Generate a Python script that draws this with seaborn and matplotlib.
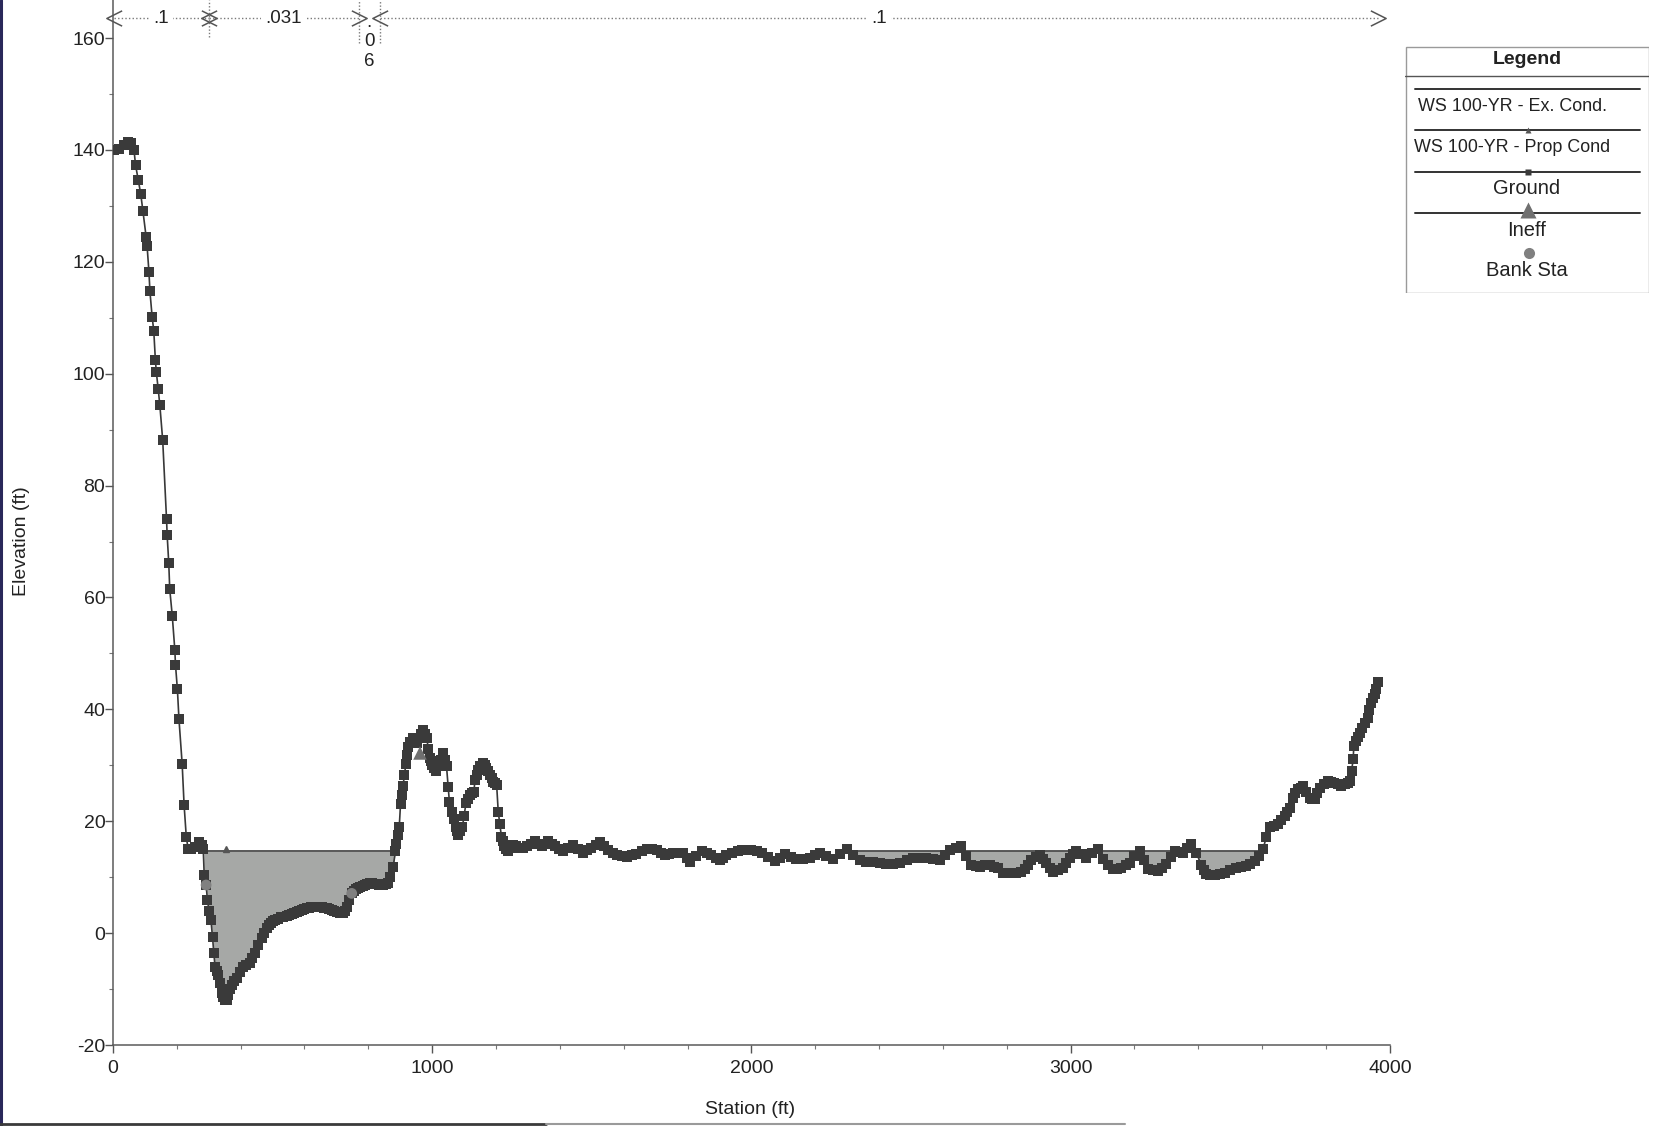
import numpy as np
import pandas as pd
import matplotlib
matplotlib.use("Agg")
import matplotlib.pyplot as plt
import seaborn as sns
from matplotlib.path import Path
from matplotlib.patches import Rectangle
from matplotlib.lines import Line2D

# ---------------------------------------------------------------- data
# ground profile: (station ft, elevation ft) per surveyed point
ground_sta = [
    3, 19, 34, 48, 57, 66, 71, 79, 87, 94, 104, 107, 113, 116, 123, 128, 133, 136,
    142, 147, 156, 168, 170, 175, 178, 186, 194, 196, 202, 207, 217, 223, 230, 236,
    245, 258, 270, 278, 283,
    286, 292, 296, 301, 307, 312, 316, 320, 325, 330, 336, 341, 346, 350, 356, 361,
    366, 372, 380, 388, 398, 408, 418, 429, 437, 445, 455, 466, 474,
    482, 488, 495, 502, 508, 516, 525, 534, 544, 552, 560, 568, 576, 584, 592, 600,
    607, 615, 622, 630, 638, 646, 655, 662, 670, 678, 686, 694, 701, 712, 722, 727,
    732, 740, 748, 754, 760, 767, 774, 782, 790, 797, 805, 812, 820, 828, 835, 841,
    847, 855, 862, 868, 878,
    885, 888, 893, 897, 901, 905, 909, 913, 918, 921, 925, 932, 939, 945, 951, 958,
    965, 972, 978, 983, 988, 993, 997, 1001, 1006, 1012, 1020, 1028, 1035, 1040,
    1045, 1050, 1054, 1061, 1068, 1074, 1078, 1082, 1088, 1095, 1100, 1106, 1112,
    1118, 1124, 1131, 1134, 1139, 1144, 1151, 1158, 1164, 1170, 1176, 1181, 1186,
    1191, 1197, 1202, 1207, 1212, 1217, 1221, 1225, 1231,
    1238, 1246, 1254, 1264, 1275, 1285, 1296, 1309, 1322, 1333, 1343, 1353, 1363,
    1374, 1384, 1397, 1410, 1426, 1442, 1457, 1473, 1486, 1499, 1512, 1525, 1538,
    1551, 1565, 1578, 1594, 1609, 1625, 1640, 1656, 1672, 1688, 1703, 1716, 1729,
    1742, 1755, 1770, 1786, 1797, 1807, 1826, 1844, 1860, 1875, 1888, 1901, 1912,
    1922, 1940, 1958, 1972, 1985, 2000, 2016, 2032, 2052, 2073, 2089, 2105, 2123,
    2141, 2162, 2183, 2199, 2214, 2235, 2256, 2277, 2298, 2318, 2339, 2360, 2381,
    2402, 2423, 2444, 2465, 2486, 2506, 2527, 2548, 2569, 2590, 2606, 2621, 2640,
    2658, 2673, 2689, 2702, 2715, 2731, 2747, 2760, 2773, 2788, 2809, 2830, 2843,
    2856, 2866, 2877, 2890, 2904, 2914, 2924, 2935, 2945, 2960, 2976, 2987, 2997,
    3008, 3018, 3034, 3049, 3068, 3086, 3101, 3117, 3133, 3146, 3159, 3172, 3185,
    3200, 3216, 3229, 3242, 3258, 3273, 3287, 3300, 3313, 3326, 3339, 3352, 3365,
    3378, 3394, 3409, 3417, 3425, 3438, 3451, 3467, 3482, 3500, 3519, 3535, 3550,
    3563, 3576, 3590,
    3602, 3613, 3623, 3636, 3649, 3660, 3670, 3678, 3686, 3696, 3704, 3712, 3720,
    3728, 3738, 3749, 3757, 3764, 3772, 3780, 3793, 3806, 3816, 3825, 3837, 3848,
    3858, 3869, 3874, 3880, 3885, 3887, 3895, 3900, 3905, 3913, 3921, 3931, 3936,
    3942, 3947, 3952, 3957, 3962,
]
ground_elev = [
    140.0, 140.2, 140.9, 141.5, 141.3, 140.0, 137.3, 134.7, 132.2, 129.1, 124.5,
    122.9, 118.1, 114.7, 110.1, 107.7, 102.5, 100.3, 97.2, 94.4, 88.1, 74.0, 71.1,
    66.1, 61.5, 56.7, 50.6, 48.0, 43.6, 38.2, 30.2, 22.9, 17.1, 15.0,
    15.0, 15.4, 16.2, 15.8, 15.0,
    10.4, 8.6, 6.0, 4.0, 2.4, -0.7, -3.5, -6.0, -6.8, -7.5, -9.0, -10.7, -11.4,
    -11.9, -11.9, -11.0, -10.0, -9.2, -8.6, -8.0, -7.0, -6.0, -5.7, -5.4, -4.5,
    -3.6, -2.2, -0.9, 0.0,
    0.9, 1.4, 1.8, 2.1, 2.4, 2.6, 2.8, 2.9, 3.0, 3.2, 3.4, 3.6, 3.85, 4.0, 4.2,
    4.35, 4.5, 4.55, 4.6, 4.7, 4.75, 4.7, 4.6, 4.55, 4.5, 4.3, 4.1, 3.9, 3.85, 3.6,
    3.55, 4.0, 4.75, 6.0, 7.1, 7.5, 7.8, 8.1, 8.3, 8.5, 8.6, 8.8, 8.9, 8.9, 8.8,
    8.7, 8.6, 8.6, 8.6, 8.8, 8.9, 10.1, 11.9,
    14.6, 16.0, 17.5, 19.05, 23.1, 24.7, 26.3, 28.3, 30.25, 31.8, 33.35, 34.2, 34.8,
    34.4, 33.95, 34.8, 35.6, 36.3, 35.6, 34.8, 33.0, 31.3, 30.7, 30.1, 29.5, 28.9,
    29.8, 31.0, 32.2, 31.0, 29.8, 26.2, 23.5, 21.7, 20.4, 19.05, 18.3, 17.6, 18.2,
    19.05, 21.0, 23.2, 24.0, 24.7, 25.0, 25.3, 27.4, 28.3, 29.2, 29.8, 30.4, 30.0,
    29.5, 28.9, 28.3, 27.7, 27.1, 26.8, 26.5, 21.7, 19.5, 17.25, 16.4, 15.5, 15.0,
    14.6, 15.2, 15.8, 15.5, 15.2, 15.2, 15.5, 15.9, 16.4, 16.0, 15.5, 15.9, 16.4,
    16.0, 15.5, 15.0, 14.6, 15.2, 15.8, 15.0, 14.3, 14.8, 15.2, 15.7, 16.3, 15.5,
    14.8, 14.3, 13.9, 13.7, 13.6, 13.9, 14.2, 14.7, 15.1, 15.0, 14.8, 14.3, 13.9,
    14.1, 14.3, 14.3, 14.3, 13.5, 12.8, 13.7, 14.6, 14.3, 14.0, 13.5, 13.1, 13.5,
    14.0, 14.3, 14.6, 14.8, 14.9, 14.9, 14.6, 14.3, 13.6, 12.9, 13.5, 14.1, 13.6,
    13.2, 13.3, 13.5, 14.0, 14.4, 13.8, 13.3, 14.2, 15.1, 14.0, 13.0, 12.8, 12.7,
    12.5, 12.4, 12.4, 12.5, 13.0, 13.4, 13.4, 13.4, 13.3, 13.1, 14.0, 14.9, 15.3,
    15.5, 13.8, 12.2, 12.0, 11.9, 12.1, 12.2, 11.9, 11.6, 10.7, 10.7, 10.7, 11.0,
    11.4, 12.2, 13.1, 13.6, 13.9, 13.2, 12.5, 11.7, 11.0, 11.2, 11.6, 12.5, 13.4,
    14.1, 14.7, 14.1, 13.5, 14.3, 15.0, 13.2, 12.2, 11.4, 11.5, 11.7, 12.1, 12.6,
    13.7, 14.7, 13.0, 11.4, 11.2, 11.1, 11.7, 12.3, 13.6, 14.7, 14.5, 14.4, 15.2,
    15.9, 14.4, 12.1, 11.3, 10.6, 10.4, 10.3, 10.5, 10.8, 11.3, 11.7, 11.9, 12.0,
    12.4, 12.9, 13.8,
    15.0, 17.1, 18.9, 19.2, 19.5, 20.2, 20.9, 21.6, 22.4, 24.2, 25.0, 25.7, 26.0,
    26.3, 25.3, 24.2, 24.0, 23.9, 25.0, 26.0, 26.6, 27.2, 27.0, 26.9, 26.6, 26.3,
    26.6, 26.9, 27.2, 29.0, 31.1, 33.5, 34.3, 35.0, 35.8, 36.7, 37.6, 38.5, 39.8,
    41.2, 42.0, 42.7, 43.7, 44.8,
]

# 100-yr water surface and the wet reaches where it is drawn
ws_elev = 14.6
ws_reaches = [(285, 886), (2318, 3598)]
ws_prop_marker_sta = 353

# ineffective-flow marker and bank stations
ineff_sta, ineff_elev = [962], [32.2]
bank_sta = [292, 748]
bank_elev = [8.6, 7.1]

# Manning's n zones
n_breaks = [3, 300, 770, 836, 3962]
n_values = [".1", ".031", ".06", ".1"]

x_ticks = [0, 1000, 2000, 3000, 4000]
y_ticks = [-20, 0, 20, 40, 60, 80, 100, 120, 140, 160]

# ---------------------------------------------------------------- style
sns.set_theme(style="ticks")
plt.rcParams["font.family"] = ["Liberation Sans", "DejaVu Sans"]
plt.rcParams["axes.unicode_minus"] = False

W, H = 1654, 1126
fig = plt.figure(figsize=(W / 100, H / 100), dpi=100)
fig.patch.set_facecolor("white")
ax = fig.add_axes([112.9 / W, (H - 1045) / H, 1277 / W, 1045 / H])
ax.set_facecolor("white")

ground = pd.DataFrame({"station": ground_sta, "elev": ground_elev})
g_x = np.asarray(ground_sta, float)
g_y = np.asarray(ground_elev, float)

fill_c = "#a6a8a6"
dark = "#383838"

# water between the surface and the ground
for a, b in ws_reaches:
    xs = np.concatenate([[a], g_x[(g_x > a) & (g_x < b)], [b]])
    ys = np.interp(xs, g_x, g_y)
    ax.fill_between(xs, ys, ws_elev, where=ys < ws_elev, interpolate=True,
                    color=fill_c, lw=0, zorder=1)
    ws_df = pd.DataFrame({"station": [a, b], "elev": [ws_elev, ws_elev]})
    sns.lineplot(data=ws_df, x="station", y="elev", ax=ax, color="#4a4a4a",
                 lw=1.3, estimator=None, zorder=2)

# proposed-condition surface marker
ax.plot([ws_prop_marker_sta], [ws_elev + 0.35], marker="^", ms=4.5,
        color="#555555", ls="none", zorder=3)

# ground profile
sns.lineplot(data=ground, x="station", y="elev", ax=ax, color=dark, lw=1.2,
             marker="s", markersize=6.5, markeredgewidth=0, markerfacecolor="#3a3a3a",
             estimator=None, sort=False, zorder=4)

# ineffective flow + bank stations
sns.scatterplot(x=ineff_sta, y=ineff_elev, ax=ax, marker="^", s=95,
                color="#707070", edgecolor="none", zorder=5)
sns.scatterplot(x=bank_sta, y=bank_elev, ax=ax, marker="o", s=60,
                color="#808080", edgecolor="none", zorder=5)

# ---------------------------------------------------------------- axes
ax.set_xlim(0, 4000)
ax.set_ylim(-20, 166.8)
ax.set_xticks(x_ticks)
ax.set_yticks(y_ticks)
ax.set_xticks(np.arange(0, 4001, 200), minor=True)
ax.set_yticks(np.arange(-20, 161, 10), minor=True)
ax.tick_params(axis="both", which="major", length=5.5, width=1, color="#555555",
               labelsize=14, labelcolor="#222222", direction="out")
ax.tick_params(axis="both", which="minor", length=3, width=0.8, color="#777777",
               direction="out")
ax.tick_params(axis="y", which="major", pad=0)
ax.tick_params(axis="x", which="major", pad=5.5)
for side in ("top", "right"):
    ax.spines[side].set_visible(False)
for side in ("left", "bottom"):
    ax.spines[side].set_color("#5a5a5a")
    ax.spines[side].set_linewidth(1.1)

ax.set_xlabel("Station (ft)", fontsize=14, color="#222222")
ax.set_ylabel("Elevation (ft)", fontsize=14, color="#222222")
ax.xaxis.set_label_coords(0.499, -0.0536)
ax.yaxis.set_label_coords(-0.065, 0.482)

# ---------------------------------------------------------------- Manning's n bar
chev_l = Path([(0.5, 0.5), (-0.5, 0.0), (0.5, -0.5)],
              [Path.MOVETO, Path.LINETO, Path.LINETO])
chev_r = Path([(-0.5, 0.5), (0.5, 0.0), (-0.5, -0.5)],
              [Path.MOVETO, Path.LINETO, Path.LINETO])
n_y = 163.5
dot_c = "#7a7a7a"
for i, lab in enumerate(n_values):
    a, b = n_breaks[i], n_breaks[i + 1]
    mid = (a + b) / 2
    if b - a > 150:
        ax.plot([a, b], [n_y, n_y], color=dot_c, lw=1, ls=(0, (1, 1.6)),
                clip_on=False, zorder=6)
        ax.plot([a], [n_y], marker=chev_l, ms=11, mfc="none", mec="#555555",
                mew=1.1, clip_on=False, zorder=7)
        ax.plot([b], [n_y], marker=chev_r, ms=11, mfc="none", mec="#555555",
                mew=1.1, clip_on=False, zorder=7)
        ax.text(mid, n_y, lab, ha="center", va="center", fontsize=13.5,
                color="#222222", zorder=8,
                bbox=dict(facecolor="white", edgecolor="none", pad=3))
    else:
        ax.text(mid, 162.0, ".", ha="center", va="baseline", fontsize=13.5,
                color="#222222")
        ax.text(mid, 159.4, "0", ha="center", va="center", fontsize=13.5,
                color="#222222")
        ax.text(mid, 155.8, "6", ha="center", va="center", fontsize=13.5,
                color="#222222")
for xb, y0 in zip(n_breaks[1:-1], [160.2, 159.1, 159.1]):
    ax.plot([xb, xb], [y0, 166.8], color=dot_c, lw=1, ls=(0, (1, 1.4)),
            clip_on=False, zorder=6)

# ---------------------------------------------------------------- legend panel
lx0, lx1, ly0, ly1 = 1405, 1649, 46, 293
lg = fig.add_axes([lx0 / W, 1 - ly1 / H, (lx1 - lx0) / W, (ly1 - ly0) / H])
lg.set_xlim(lx0, lx1)
lg.set_ylim(ly1, ly0)
lg.axis("off")
lg.add_patch(Rectangle((lx0 + 0.5, ly0 + 0.5), lx1 - lx0 - 1, ly1 - ly0 - 1,
                       facecolor="white", edgecolor="#9a9a9a", lw=1.0))
cx = (lx0 + lx1) / 2
lg.text(cx, 60, "Legend", ha="center", va="center", fontsize=14,
        fontweight="bold", color="#222222")
lg.plot([lx0, lx1], [76, 76], color="#555555", lw=1.0)

leg_rows = [
    (89, 106.5, "WS 100-YR - Ex. Cond.", None, 0, None, 1512, 12.9),
    (130, 148, "WS 100-YR - Prop Cond", "^", 5, "#555555", 1512, 12.9),
    (171.5, 189, "Ground", "s", 5, "#3a3a3a", cx, 14.5),
    (212.5, 230, "Ineff", "^", 11, "#707070", cx, 14.5),
]
for ly, ty, lab, mk, msz, mc, tx, fs in leg_rows:
    lg.plot([1415, 1640], [ly, ly], color="#333333", lw=1.4)
    if mk:
        lg.plot([cx + 1], [ly - (3 if msz > 8 else 0)], marker=mk, ms=msz,
                color=mc, mec="none", ls="none")
    lg.text(tx, ty, lab, ha="center", va="center", fontsize=fs, color="#222222")
lg.plot([cx + 2], [253], marker="o", ms=8, color="#808080", mec="none", ls="none")
lg.text(cx, 271, "Bank Sta", ha="center", va="center", fontsize=14.5,
        color="#222222")

# scanned-sheet edges
fig.add_artist(Line2D([0.0009, 0.0009], [0, 1], transform=fig.transFigure,
                      color="#2a285a", lw=2.2))
fig.add_artist(Line2D([0, 0.33], [0.0022, 0.0022], transform=fig.transFigure,
                      color="#3a3a3a", lw=2.0))
fig.add_artist(Line2D([0.33, 0.68], [0.0022, 0.0022], transform=fig.transFigure,
                      color="#9a9a9a", lw=1.5))

fig.savefig("out.png", dpi=100, facecolor="white")
